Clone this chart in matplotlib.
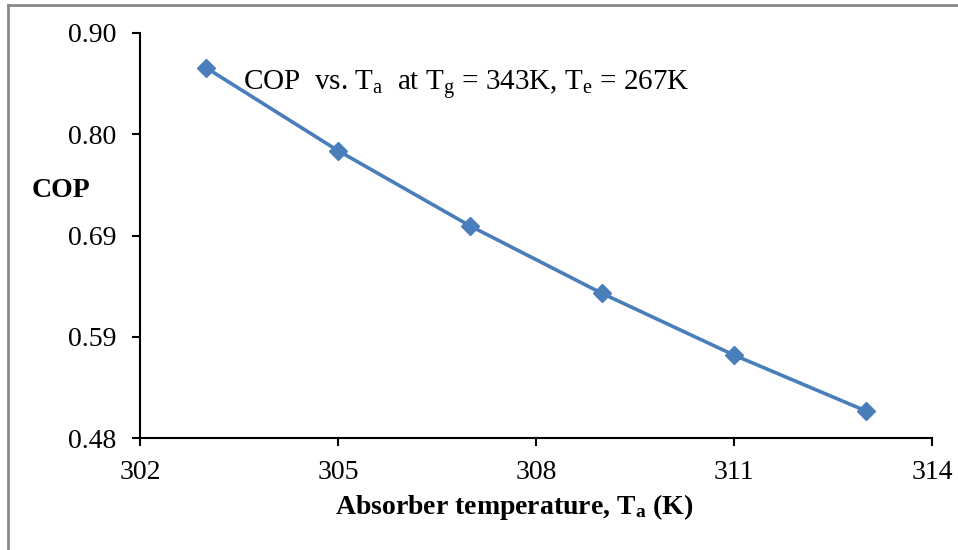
import matplotlib.pyplot as plt
from matplotlib.lines import Line2D

plt.rcParams['font.family'] = ['Liberation Serif', 'DejaVu Serif']
plt.rcParams['mathtext.fontset'] = 'custom'
plt.rcParams['mathtext.rm'] = 'Liberation Serif'
plt.rcParams['mathtext.it'] = 'Liberation Serif:italic'
plt.rcParams['mathtext.bf'] = 'Liberation Serif:bold'

# Data
temperatures = [303, 305, 307, 309, 311, 313]
cop = [0.864, 0.778, 0.700, 0.630, 0.566, 0.508]

x_ticks = [302, 305, 308, 311, 314]
y_ticks = [0.48, 0.585, 0.69, 0.795, 0.90]
y_tick_labels = ["0.48", "0.59", "0.69", "0.80", "0.90"]

W, H = 958, 550
fig = plt.figure(figsize=(W / 100, H / 100), dpi=100)

# axes box in pixels: left 140, right 932, top 33, bottom 438
ax = fig.add_axes([140 / W, 1 - 438 / H, (932 - 140) / W, (438 - 33) / H])

ax.plot(temperatures, cop, color='#4a7ebb', linewidth=2.6,
        marker='D', markersize=9, markerfacecolor='#4a7ebb', markeredgecolor='#4a7ebb')

ax.set_xlim(302, 314)
ax.set_ylim(0.48, 0.90)
ax.set_xticks(x_ticks)
ax.set_yticks(y_ticks)
ax.set_yticklabels(y_tick_labels)

ax.spines['top'].set_visible(False)
ax.spines['right'].set_visible(False)
for s in ['left', 'bottom']:
    ax.spines[s].set_linewidth(1.5)
    ax.spines[s].set_color('black')
ax.tick_params(direction='out', length=6, width=1.5, labelsize=20)
ax.tick_params(axis='x', pad=10)
ax.tick_params(axis='y', pad=11)

ax.set_xlabel(r"Absorber temperature, $\mathbf{T_a}$ (K)", fontsize=20, fontweight='bold')
ax.xaxis.set_label_coords(0.473, -0.17)
ax.xaxis.label.set_va('center')
ax.set_ylabel("COP", fontsize=20, fontweight='bold', rotation=0, va='center', ha='center')
ax.yaxis.set_label_coords(-0.0997, 0.612)

ax.text(0.130, 0.859, r"COP  vs. $\mathrm{T_a}$  at $\mathrm{T_g}$ = 343K, $\mathrm{T_e}$ = 267K",
        transform=ax.transAxes, fontsize=21, va='baseline', ha='left')

# grey outer frame (left and top edges)
fig.add_artist(Line2D([8 / W, 8 / W], [0, 1 - 5 / H], color='#888888', linewidth=2, transform=fig.transFigure))
fig.add_artist(Line2D([8 / W, 1], [1 - 5 / H, 1 - 5 / H], color='#888888', linewidth=2, transform=fig.transFigure))

plt.savefig("out.png", dpi=100)
plt.close()
